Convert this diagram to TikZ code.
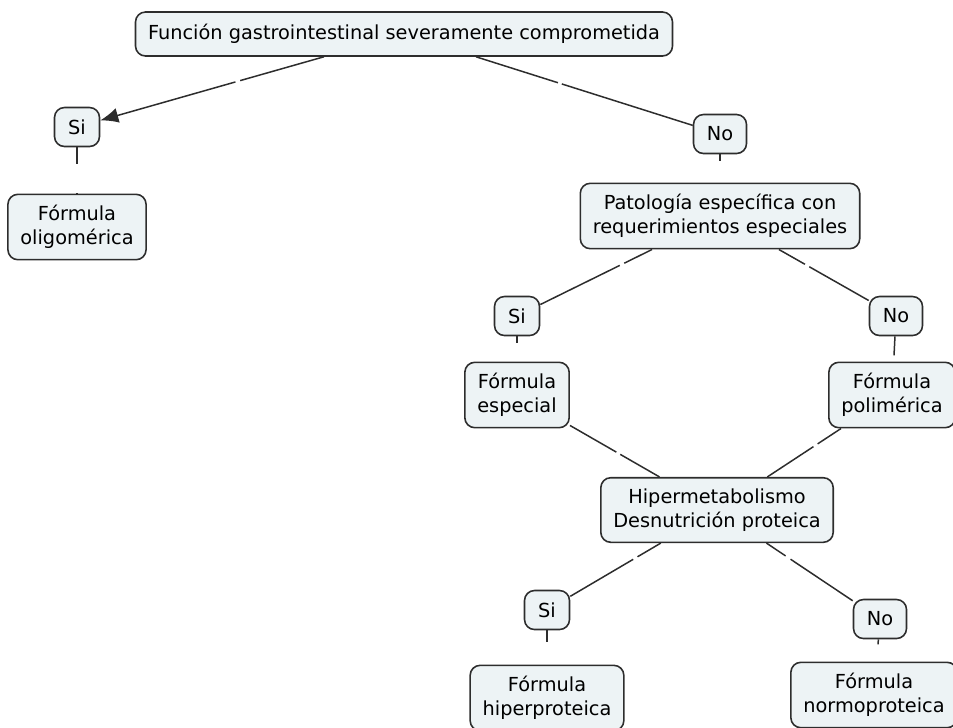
\documentclass[tikz,border=0pt]{standalone}
\usepackage{fontspec}
\setmainfont{DejaVu Sans}
\usepackage{xcolor}
\usepackage{tikz}
\usetikzlibrary{arrows.meta, positioning}
\definecolor{boxfill}{RGB}{237,243,245}
\definecolor{boxline}{RGB}{45,45,45}
\tikzstyle{concept} = [rectangle, rounded corners=0.2cm, minimum height=0.8cm, inner xsep=0.25cm, inner ysep=0.22cm, align=center, draw=boxline, line width=0.9pt, fill=boxfill, font=\fontsize{11}{13.6}\selectfont]
\tikzstyle{answer} = [concept, minimum width=0.9cm, minimum height=0.78cm, inner ysep=0.08cm]
\tikzstyle{link} = [draw=boxline, line width=0.85pt]
\tikzstyle{arrow} = [link, -{Latex[length=0.36cm,width=0.3cm]}]

\begin{document}
\begin{tikzpicture}[node distance=2cm]
        \useasboundingbox (0,0) rectangle (19.06,-14.54);
        % Root question
        \node (gifunc) [concept, inner ysep=0.12cm, minimum height=0.88cm] at (8.08,-0.68) {Función gastrointestinal severamente comprometida};

        % Left branch
        \node (si1) [answer, below of=gifunc, xshift=-6.54cm, yshift=0.14cm] {Si};
        \node (oligo) [concept, below of=si1] {Fórmula\\oligomérica};

        % Right branch
        \node (no1) [answer, minimum width=1.06cm, below of=gifunc, xshift=6.32cm] {No};
        \node (patol) [concept, below of=no1, yshift=0.36cm] {Patología específica con\\requerimientos especiales};
        \node (si2) [answer, below of=patol, xshift=-4.06cm] {Si};
        \node (no2) [answer, minimum width=1.06cm, below of=patol, xshift=3.52cm] {No};
        \node (especial) [concept, below of=si2, yshift=0.42cm] {Fórmula\\especial};
        \node (polim) [concept, below of=no2, xshift=-0.08cm, yshift=0.42cm] {Fórmula\\polimérica};

        % Protein needs
        \node (hipermet) [concept, below of=especial, xshift=4cm, yshift=-0.3cm] {Hipermetabolismo\\Desnutrición proteica};
        \node (si3) [answer, below of=hipermet, xshift=-3.4cm] {Si};
        \node (no3) [answer, minimum width=1.06cm, below of=hipermet, xshift=3.26cm, yshift=-0.18cm] {No};
        \node (hiperprot) [concept, below of=si3, yshift=0.24cm] {Fórmula\\hiperproteica};
        \node (normo) [concept, below of=no3, xshift=-0.12cm, yshift=0.48cm] {Fórmula\\normoproteica};

        % Connectors
        \draw [arrow, dash pattern=on 1.74cm off 0.1cm on 20cm] (gifunc) -- (si1);
        \draw [link, dash pattern=on 1.72cm off 0.08cm on 20cm] (gifunc) -- (no1);
        \draw [link, dash pattern=on 0.34cm off 0.58cm on 20cm] (si1) -- (oligo);
        \draw [link, dash pattern=on 0.14cm off 2cm] (no1) -- (patol);
        \draw [link, dash pattern=on 0.62cm off 0.1cm on 20cm] (patol) -- (si2);
        \draw [link, dash pattern=on 0.6cm off 0.1cm on 20cm] (patol) -- (no2);
        \draw [link, dash pattern=on 0.14cm off 2cm] (si2) -- (especial);
        \draw [link, dash pattern=on 0.38cm off 2cm] (no2) -- (polim);
        \draw [link, dash pattern=on 1.07cm off 0.09cm on 20cm] (especial) -- (hipermet);
        \draw [link, dash pattern=on 0.56cm off 0.1cm on 20cm] (polim) -- (hipermet);
        \draw [link, dash pattern=on 0.54cm off 0.1cm on 20cm] (hipermet) -- (si3);
        \draw [link, dash pattern=on 0.46cm off 0.12cm on 20cm] (hipermet) -- (no3);
        \draw [link, dash pattern=on 0.24cm off 2cm] (si3) -- (hiperprot);
        \draw [link, dash pattern=on 0.1cm off 2cm] (no3) -- (normo);
\end{tikzpicture}
\end{document}
